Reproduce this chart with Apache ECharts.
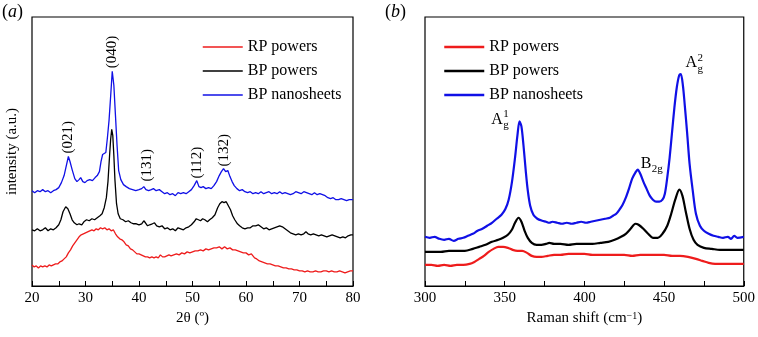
<!DOCTYPE html>
<html>
<head>
<meta charset="utf-8">
<script src="https://cdn.jsdelivr.net/npm/echarts@6/dist/echarts.min.js"></script>
<style>
    html, body {margin: 0; padding: 0; background: #fff;}
    #main {width: 758px; height: 337px;}
</style>
</head>
<body>
<div id="main"></div>
<script>
// ---- data: [x, intensity a.u.] ----
var seriesNames = ['RP powers', 'BP powers', 'BP nanosheets'];

// (a) XRD, x = 2theta
var xrdRP = [[20,21],[20.4,19],[20.8,20],[21.2,18],[21.6,20],[22,19],[22.4,20],[22.8,19],[23.2,21],[23.6,20],[24,21],[24.4,22],[24.8,22],[25.2,24],[25.6,25],[26,27],[26.4,29],[26.8,33],[27.2,36],[27.6,40],[28,43],[28.4,46],[28.8,49],[29.2,51],[29.6,52],[30,53],[30.4,54],[30.8,55],[31.2,56],[31.6,55],[32,57],[32.4,56],[32.8,58],[33.2,57],[33.6,58],[34,56],[34.4,57],[34.8,55],[35.2,56],[35.6,52],[36,49],[36.4,47],[36.8,46],[37.2,44],[37.6,41],[38,40],[38.4,37],[38.8,36],[39.2,34],[39.6,32],[40,32],[40.4,31],[40.8,30],[41.2,29],[41.6,29],[42,28],[42.4,29],[42.8,28],[43.2,29],[43.6,28],[44,31],[44.4,29],[44.8,29],[45.2,30],[45.6,31],[46,30],[46.5,31],[47,32],[47.5,31],[48,33],[48.5,32],[49,34],[49.5,33],[50,34],[50.5,35],[51,35],[51.5,36],[52,35],[52.5,37],[53,36],[53.5,37],[54,38],[54.5,38],[55,39],[55.5,37],[56,39],[56.5,37],[57,38],[57.5,36],[58,36],[58.5,35],[59,34],[59.5,33],[60,33],[60.5,31],[61,32],[61.3,30],[61.6,28],[62,27],[62.5,25],[63,24],[63.5,23],[64,22],[64.5,22],[65,21],[65.5,20],[66,20],[66.5,19],[67,18],[67.5,18],[68,17],[68.5,17],[69,16],[69.5,16],[70,15],[70.5,15],[71,14],[71.5,15],[72,14],[72.5,14],[73,15],[73.5,14],[74,14],[74.5,15],[75,15],[75.5,14],[76,15],[76.5,14],[77,14],[77.5,15],[78,14],[78.5,13],[79,14],[79.5,15],[80,15]];
var xrdBP = [[20,56],[20.5,55],[21,57],[21.5,55],[22,56],[22.5,58],[23,55],[23.5,57],[24,56],[24.5,58],[25,61],[25.4,66],[25.8,74],[26.3,79],[26.7,77],[27.1,72],[27.5,66],[27.9,63],[28.4,61],[28.8,62],[29.3,61],[29.7,64],[30.2,66],[30.7,65],[31.2,67],[31.7,66],[32.2,68],[32.7,70],[33.1,72],[33.5,78],[33.9,88],[34.2,104],[34.5,130],[34.7,146],[34.9,156],[35.1,150],[35.3,130],[35.5,106],[35.8,82],[36.1,72],[36.5,67],[37,66],[37.5,64],[38,65],[38.5,63],[39,62],[39.5,62],[40,61],[40.5,62],[40.9,65],[41.2,63],[41.6,60],[42,61],[42.5,62],[42.9,63],[43.3,60],[43.8,59],[44.3,60],[44.8,57],[45.3,58],[45.8,56],[46.3,57],[46.8,55],[47.3,58],[47.8,57],[48.3,56],[48.8,58],[49.3,59],[49.8,61],[50.3,64],[50.7,67],[51.1,66],[51.5,65],[51.9,67],[52.3,66],[52.8,64],[53.2,66],[53.7,68],[54.2,71],[54.7,78],[55.1,82],[55.5,84],[55.9,83],[56.3,84],[56.7,80],[57.1,76],[57.5,70],[57.9,66],[58.4,62],[58.8,60],[59.3,58],[59.8,57],[60.3,58],[60.8,58],[61.3,60],[61.8,60],[62.3,61],[62.8,59],[63.3,57],[63.8,58],[64.3,56],[64.8,57],[65.3,58],[65.8,59],[66.3,60],[66.8,59],[67.3,57],[67.8,55],[68.3,53],[68.8,52],[69.3,51],[69.8,52],[70.3,51],[70.8,52],[71.2,54],[71.6,52],[72.1,51],[72.6,52],[73.1,51],[73.6,50],[74.1,51],[74.6,50],[75.1,49],[75.6,50],[76.1,51],[76.6,50],[77.1,49],[77.6,48],[78.1,49],[78.6,48],[79.1,50],[79.6,51],[80,51]];
var xrdNano = [[20,95],[20.5,93],[21,95],[21.5,94],[22,96],[22.5,94],[23,95],[23.5,93],[24,95],[24.5,96],[25,98],[25.5,103],[26,110],[26.5,122],[26.8,129],[27.1,124],[27.5,116],[28,107],[28.4,104],[28.8,106],[29.1,108],[29.5,104],[29.9,103],[30.3,105],[30.8,106],[31.3,105],[31.8,108],[32.2,110],[32.6,114],[32.9,124],[33.2,131],[33.5,130],[33.8,133],[34.1,148],[34.4,165],[34.7,189],[35.0,214],[35.3,200],[35.6,170],[35.9,140],[36.2,115],[36.6,106],[37.1,101],[37.6,99],[38.2,97],[38.8,96],[39.4,95],[40,96],[40.5,97],[40.9,99],[41.3,96],[41.8,95],[42.3,96],[42.7,97],[43.2,95],[43.8,96],[44.3,94],[44.8,92],[45.3,93],[45.8,91],[46.3,92],[46.8,90],[47.3,93],[47.8,92],[48.3,93],[48.8,92],[49.3,94],[49.8,96],[50.3,100],[50.8,105],[51.2,99],[51.6,98],[52.0,99],[52.5,97],[53,98],[53.5,97],[54,100],[54.5,104],[55,110],[55.4,114],[55.8,117],[56.2,114],[56.6,115],[57,109],[57.4,104],[57.8,100],[58.3,97],[58.8,95],[59.3,96],[59.8,94],[60.3,93],[60.8,94],[61.3,92],[61.8,93],[62.3,92],[62.8,94],[63.3,92],[63.8,93],[64.3,94],[64.8,92],[65.3,93],[65.8,92],[66.3,94],[66.8,92],[67.3,93],[67.8,92],[68.3,91],[68.8,92],[69.3,94],[69.8,93],[70.3,92],[70.8,94],[71.3,93],[71.8,92],[72.3,91],[72.8,93],[73.3,91],[73.8,92],[74.3,91],[74.8,90],[75.3,88],[75.8,87],[76.3,88],[76.8,86],[77.3,86],[77.8,87],[78.3,86],[78.8,85],[79.3,86],[80,86]];
var xrdPeakLabels = ['(021)', '(040)', '(131)', '(112)', '(132)'];
var xrdPeakPos = [[26.7,132],[35.0,217],[41.5,104],[50.8,107],[55.9,119]];

// (b) Raman, x = shift in cm-1
var ramanRP = [[300,21],[304,21],[308,20],[312,21],[316,20],[320,21],[324,21],[328,22],[331,24],[334,27],[337,30],[340,34],[343,37],[346,39],[349,39],[352,38],[355,36],[358,35],[361,35],[364,33],[367,30],[370,29],[373,29],[377,30],[381,31],[385,31],[390,32],[395,32],[400,32],[405,31],[410,31],[415,31],[420,31],[425,31],[430,30],[435,31],[440,31],[445,31],[450,31],[455,30],[460,30],[465,29],[470,27],[474,25],[478,23],[482,22],[487,22],[492,22],[496,22],[500,22]];
var ramanBP = [[300,34],[305,34],[310,34],[315,35],[320,35],[325,35],[330,37],[334,39],[338,41],[342,44],[346,46],[349,48],[352,51],[354.5,56],[356.5,63],[358.7,68],[360.5,64],[362.5,55],[364.5,48],[367,43],[370,41],[373,41],[376,42],[378,43],[381,42],[385,42],[390,41],[395,42],[400,42],[405,42],[410,43],[415,44],[419,46],[423,49],[426,52],[429,57],[432,62],[434,61],[437,57],[440,52],[443,48],[446,48],[449,52],[452,60],[454.5,72],[457,86],[459.6,96],[461.5,90],[463.5,75],[466,57],[468.5,46],[471,41],[475,38],[480,37],[485,36],[490,36],[495,36],[500,36]];
var ramanNano = [[300,49],[303,48],[306,49],[309,47],[312,46],[315,47],[318,45],[321,47],[324,48],[327,50],[330,52],[333,55],[336,57],[339,60],[342,63],[345,67],[348,71],[350.5,77],[352.5,86],[354.5,103],[356.5,128],[358,150],[359.3,164],[360.5,159],[361.8,140],[363.2,115],[364.5,95],[366,80],[368,71],[370.5,67],[373.5,65],[376,64],[378,63],[380,64],[383,63],[386,62],[389,63],[392,62],[395,63],[398,64],[401,63],[404,64],[407,65],[410,66],[413,67],[416,68],[418,70],[420,72],[422,76],[424,81],[426,88],[428,97],[430,107],[432,113],[433.5,116],[435,112],[437,104],[439,97],[441,90],[443,86],[445,84],[447,84],[449,86],[450.5,92],[452,108],[453.5,128],[455,153],[456.5,178],[458,198],[459.5,210],[460.5,211],[461.8,200],[463,180],[464.5,152],[466,122],[468,95],[470,72],[472.5,60],[475,55],[478,52],[481,50],[484,49],[487,48],[490,49],[492,47],[494,50],[496,48],[500,49]];
// mode labels: main letter, superscript, subscript; anchor = left/middle of main letter
var ramanModeMain = ['A', 'B', 'A'];
var ramanModeSup = ['1', '', '2'];
var ramanModeSub = ['g', '2g', 'g'];
var ramanModePos = [[341.6,166],[435.4,122],[463.5,222]];

var colors = ['#ee1c1c', '#000000', '#1010e6'];
var serif = '"Liberation Serif", "Times New Roman", serif';

var chart = echarts.init(document.getElementById('main'));

function xAxisFor(grid, min, max, step, name) {
    return {
        type: 'value', gridIndex: grid, min: min, max: max, interval: step,
        name: name, nameLocation: 'middle', nameGap: 24,
        nameTextStyle: {
            fontFamily: serif, fontSize: 15, color: '#000',
            rich: {sup: {fontFamily: serif, fontSize: 10, color: '#000', verticalAlign: 'top', lineHeight: 10}}
        },
        axisLine: {show: true, lineStyle: {color: '#000', width: 1.2}},
        axisTick: {show: true, inside: true, length: 5, lineStyle: {color: '#000'}},
        minorTick: {show: true, splitNumber: 2, length: 5, lineStyle: {color: '#000'}},
        splitLine: {show: false},
        axisLabel: {fontFamily: serif, fontSize: 15, color: '#000', margin: 5}
    };
}

function yAxisFor(grid, name) {
    return {
        type: 'value', gridIndex: grid, min: 0, max: 268,
        name: name, nameLocation: 'middle', nameGap: 12,
        nameTextStyle: {fontFamily: serif, fontSize: 15, color: '#000'},
        axisLine: {show: false}, axisTick: {show: false},
        axisLabel: {show: false}, splitLine: {show: false}
    };
}

function lineSeries(name, idx, data, width, smooth) {
    return {
        name: name, type: 'line', xAxisIndex: idx, yAxisIndex: idx,
        data: data, symbol: 'none', smooth: smooth, silent: true,
        lineStyle: {color: colors[seriesNames.indexOf(name)], width: width},
        itemStyle: {color: colors[seriesNames.indexOf(name)]},
        z: 3 - seriesNames.indexOf(name)
    };
}

// legend shows only the line sample, the symbol is hidden
function legendFor(left, width) {
    return {
        orient: 'vertical', left: left, top: 39, padding: 0,
        itemWidth: 40, itemHeight: 14, itemGap: 8, selectedMode: false,
        textStyle: {fontFamily: serif, fontSize: 16, color: '#000'},
        data: seriesNames.map(function (n) {
            return {name: n, lineStyle: {width: width}, itemStyle: {opacity: 0}};
        })
    };
}

chart.setOption({
    animation: false,
    backgroundColor: '#fff',
    grid: [
        {left: 32, right: 405, top: 17, bottom: 51, show: true, borderColor: '#000', borderWidth: 1.2, backgroundColor: 'transparent'},
        {left: 425, right: 11, top: 17, bottom: 51, show: true, borderColor: '#000', borderWidth: 1.2, backgroundColor: 'transparent'}
    ],
    xAxis: [
        xAxisFor(0, 20, 80, 10, '2θ (º)'),
        xAxisFor(1, 300, 500, 50, 'Raman shift (cm{sup|−1})')
    ],
    yAxis: [
        yAxisFor(0, 'intensity (a.u.)'),
        yAxisFor(1, '')
    ],
    legend: [legendFor(202, 1.5), legendFor(443, 2.5)],
    series: [
        lineSeries('RP powers', 0, xrdRP, 1.3, false),
        lineSeries('BP powers', 0, xrdBP, 1.3, false),
        lineSeries('BP nanosheets', 0, xrdNano, 1.3, false),
        lineSeries('RP powers', 1, ramanRP, 2.2, 0.3),
        lineSeries('BP powers', 1, ramanBP, 2.2, 0.3),
        lineSeries('BP nanosheets', 1, ramanNano, 2.2, 0.3)
    ]
});

// annotations, placed from data coordinates
var graphics = [];
var panelTag = function (x, letter) {
    return {
        type: 'text', left: x, top: 3,
        style: {
            text: '{n|(}{i|' + letter + '}{n|)}',
            rich: {
                n: {fontFamily: serif, fontSize: 18, fill: '#000'},
                i: {fontFamily: serif, fontSize: 18, fontStyle: 'italic', fill: '#000'}
            }
        }
    };
};
graphics.push(panelTag(2, 'a'));
graphics.push(panelTag(385, 'b'));

for (var i = 0; i < xrdPeakLabels.length; i++) {
    var p = chart.convertToPixel({gridIndex: 0}, xrdPeakPos[i]);
    graphics.push({
        type: 'text', x: p[0], y: p[1], rotation: Math.PI / 2,
        style: {text: xrdPeakLabels[i], fontFamily: serif, fontSize: 15, fill: '#000', align: 'left', verticalAlign: 'middle'}
    });
}

for (var j = 0; j < ramanModeMain.length; j++) {
    var q = chart.convertToPixel({gridIndex: 1}, ramanModePos[j]);
    var w = ramanModeMain[j] === 'A' ? 12 : 11;
    graphics.push({
        type: 'text', x: q[0], y: q[1],
        style: {text: ramanModeMain[j], fontFamily: serif, fontSize: 16, fill: '#000', verticalAlign: 'middle'}
    });
    if (ramanModeSup[j]) {
        graphics.push({
            type: 'text', x: q[0] + w, y: q[1] - 5,
            style: {text: ramanModeSup[j], fontFamily: serif, fontSize: 11, fill: '#000', verticalAlign: 'middle'}
        });
    }
    graphics.push({
        type: 'text', x: q[0] + w, y: q[1] + 6,
        style: {text: ramanModeSub[j], fontFamily: serif, fontSize: 11, fill: '#000', verticalAlign: 'middle'}
    });
}

chart.setOption({graphic: graphics});
</script>
</body>
</html>
